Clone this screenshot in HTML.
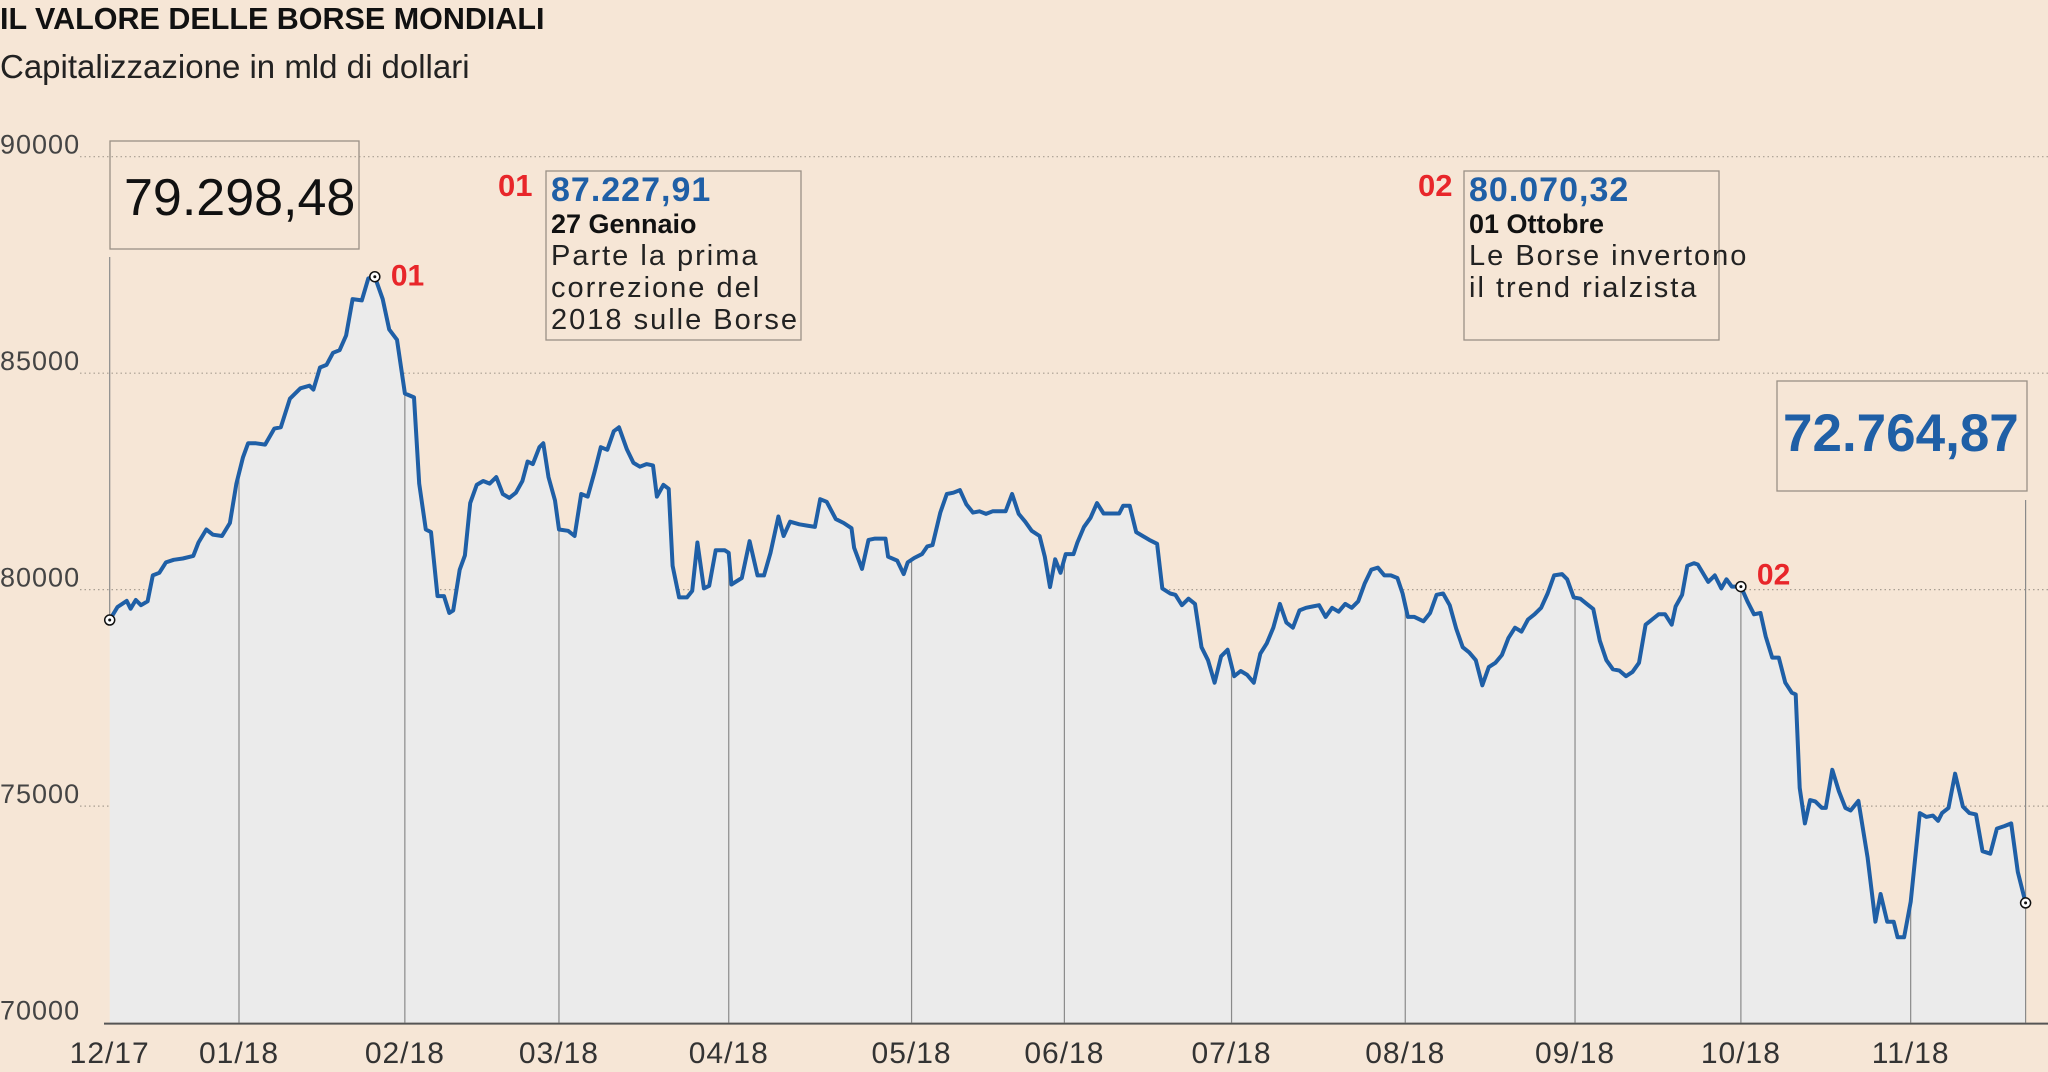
<!DOCTYPE html>
<html><head><meta charset="utf-8"><style>
html,body{margin:0;padding:0;background:#f6e6d6;}
body{width:2048px;height:1072px;overflow:hidden;position:relative;font-family:"Liberation Sans",sans-serif;}
svg{position:absolute;left:0;top:0;}
</style></head><body>
<svg id="chart" width="2048" height="1072" viewBox="0 0 2048 1072" xmlns="http://www.w3.org/2000/svg">
  <rect x="0" y="0" width="2048" height="1072" fill="#f6e6d6"/>
  <text x="0" y="29" font-size="30.5" font-weight="bold" fill="#111">IL VALORE DELLE BORSE MONDIALI</text>
  <text x="0" y="78" font-size="33" fill="#222">Capitalizzazione in mld di dollari</text>
  <g id="grid"></g>
  <g id="plot"></g>
  <g id="xaxis"></g>
  <g>
    <rect x="110" y="141" width="249" height="108" fill="none" stroke="#9a9085" stroke-width="1.3"/>
    <text x="124" y="215" font-size="52" fill="#111">79.298,48</text>
  </g>
  <g>
    <text x="498" y="196" font-size="31" font-weight="bold" fill="#e8262a">01</text>
    <rect x="546" y="171" width="255" height="169" fill="none" stroke="#9a9085" stroke-width="1.3"/>
    <text x="551" y="201" font-size="34" font-weight="bold" letter-spacing="1" fill="#1f5fa6">87.227,91</text>
    <text x="551" y="233" font-size="27" font-weight="bold" fill="#111">27 Gennaio</text>
    <text font-size="29" letter-spacing="2" fill="#222"><tspan x="551" y="265">Parte la prima</tspan><tspan x="551" y="297">correzione del</tspan><tspan x="551" y="329">2018 sulle Borse</tspan></text>
  </g>
  <g>
    <text x="1418" y="196" font-size="31" font-weight="bold" fill="#e8262a">02</text>
    <rect x="1464" y="171" width="255" height="169" fill="none" stroke="#9a9085" stroke-width="1.3"/>
    <text x="1469" y="201" font-size="34" font-weight="bold" letter-spacing="1" fill="#1f5fa6">80.070,32</text>
    <text x="1469" y="233" font-size="27" font-weight="bold" fill="#111">01 Ottobre</text>
    <text font-size="29" letter-spacing="2" fill="#222"><tspan x="1469" y="265">Le Borse invertono</tspan><tspan x="1469" y="297">il trend rialzista</tspan></text>
  </g>
  <g>
    <rect x="1777" y="381" width="250" height="110" fill="none" stroke="#9a9085" stroke-width="1.3"/>
    <text x="1783" y="451" font-size="53" font-weight="bold" fill="#1f5fa6">72.764,87</text>
  </g>
</svg>
<script>
const days = [0,6,13,16,20,24,29,33,38,43,49,56,64,68,74,79,86,92,97,102,106,112,119,126,131,138,146,153,156,161,166,171,176,181,186,193,198,203,209,214,220,226,233,237,242,246,251,256,260,263,268,272,276,281,286,291,296,301,306,311,316,320,324,329,332,336,341,344,351,356,361,366,371,376,381,386,390,396,401,406,411,416,419,424,428,431,436,442,446,450,455,459,464,471,474,476,484,490,496,501,506,512,516,521,528,534,540,544,549,556,562,568,570,576,581,586,594,596,603,608,611,616,622,626,630,636,641,646,651,656,661,666,671,676,681,686,691,696,701,706,712,716,720,724,728,732,738,741,746,751,756,761,766,773,776,781,786,791,796,802,806,812,816,821,826,831,836,841,846,851,856,861,866,871,876,881,886,891,896,901,906,911,916,921,926,931,936,941,946,951,956,961,966,971,976,981,986,990,994,999,1006,1011,1016,1021,1026,1031,1036,1041,1046,1051,1056,1061,1066,1071,1076,1081,1086,1091,1096,1101,1106,1112,1116,1121,1126,1131,1136,1141,1146,1151,1156,1161,1166,1171,1176,1181,1186,1191,1196,1199,1204,1208,1213,1216,1221,1224,1229,1234,1238,1242,1249,1254,1259,1264,1268,1273,1278,1283,1288,1291,1294,1298,1302,1306,1311,1314,1319,1324,1329,1333,1339,1346,1352,1356,1361,1366,1369,1374,1379,1386,1391,1396,1400,1403,1408,1413,1419,1424,1429,1434,1440,1445,1451,1456,1461,1467];
const values = [79298,79600,79740,79560,79760,79640,79730,80330,80390,80630,80690,80720,80780,81090,81390,81270,81240,81540,82450,83050,83380,83380,83350,83720,83750,84410,84650,84710,84620,85130,85190,85470,85530,85870,86710,86680,87190,87228,86710,86010,85770,84530,84440,82450,81390,81330,79850,79850,79460,79520,80460,80790,82000,82420,82510,82450,82600,82210,82120,82240,82510,82960,82900,83290,83380,82600,82060,81390,81360,81240,82210,82150,82690,83290,83230,83660,83750,83240,82930,82840,82900,82870,82150,82420,82330,80550,79820,79820,79970,81090,80030,80090,80910,80910,80850,80120,80270,81120,80330,80330,80850,81690,81240,81570,81510,81480,81450,82090,82030,81630,81540,81420,80970,80480,81150,81180,81180,80760,80670,80360,80630,80730,80820,81000,81030,81780,82210,82240,82300,81970,81780,81810,81750,81810,81810,81810,82210,81750,81570,81360,81240,80760,80060,80700,80390,80820,80820,81090,81450,81660,82000,81760,81760,81760,81940,81940,81330,81240,81150,81060,80030,79910,79880,79640,79790,79670,78670,78370,77850,78460,78610,78000,78120,78030,77850,78520,78760,79120,79670,79240,79120,79520,79580,79610,79640,79370,79580,79490,79670,79580,79730,80150,80460,80510,80330,80330,80270,79910,79370,79370,79270,79460,79880,79910,79640,79100,78670,78550,78370,77790,78210,78310,78490,78880,79120,79030,79310,79430,79580,79910,80330,80360,80240,79820,79790,79670,79550,78820,78370,78160,78130,78000,78100,78310,79190,79310,79430,79430,79190,79610,79880,80550,80610,80580,80330,80180,80330,80030,80240,80070,80070,79730,79430,79460,78920,78430,78430,77850,77620,77580,75420,74600,75140,75110,74960,74960,75840,75350,74960,74900,75120,73810,72330,72970,72330,72330,71970,71970,72790,74840,74750,74780,74660,74840,74960,75750,74990,74840,74810,73960,73900,74480,74540,74600,73480,72765];
const tickLabels = ["12/17","01/18","02/18","03/18","04/18","05/18","06/18","07/18","08/18","09/18","10/18","11/18"];
const tickDays = [0,99,226,344,474,614,731,859,992,1122,1249,1379];
const yTicks = [90000,85000,80000,75000,70000];
const markerDays = [0,203,1249,1467];
const markerValues = [79298,87228,80070,72765];

const NS = "http://www.w3.org/2000/svg";
const X0=109.7, X1=2025.6, DMAX=1467;
const Y_TOP=156.7, Y_BOT=1022.6, VMAX=90000, VMIN=70000;
const xs = d => X0 + (d/DMAX)*(X1-X0);
const ys = v => Y_BOT - (v-VMIN)/(VMAX-VMIN)*(Y_BOT-Y_TOP);
function mk(tag, attrs, parent){const e=document.createElementNS(NS,tag);for(const k in attrs)e.setAttribute(k,attrs[k]);parent.appendChild(e);return e;}

const grid=document.getElementById('grid');
yTicks.forEach(v=>{
  const y=ys(v);
  if(v>VMIN){
    const l=mk('line',{x1:80,x2:2048,y1:y,y2:y,stroke:'#a89e92','stroke-width':1.2,'stroke-dasharray':'1.5 3'},grid);
    
    
  }
  const t=mk('text',{x:0,y:y-3,'font-size':27,'letter-spacing':1,fill:'#444'},grid);
  t.textContent=String(v);
  
  
});

const plot=document.getElementById('plot');
let lineD='';
days.forEach((d,i)=>{lineD+=(i?'L':'M')+xs(d).toFixed(1)+' '+ys(values[i]).toFixed(1);});
const areaD=lineD+'L'+xs(days[days.length-1]).toFixed(1)+' '+Y_BOT+'L'+xs(days[0]).toFixed(1)+' '+Y_BOT+'Z';
const defs=mk('defs',{},plot);
const cp=mk('clipPath',{id:'areaClip'},defs);
mk('path',{d:areaD},cp);
const area=mk('path',{d:areaD,fill:'#ebebeb'},plot);


const vg=mk('g',{'clip-path':'url(#areaClip)'},plot);
tickDays.forEach((d,i)=>{
  if(i===0)return;
  const l=mk('line',{x1:xs(d),x2:xs(d),y1:0,y2:Y_BOT,stroke:'#8a8a8a','stroke-width':1.2},vg);
  
  
});
const c1=mk('line',{x1:xs(0),x2:xs(0),y1:257,y2:ys(values[0]),stroke:'#8a8a8a','stroke-width':1.2},plot);


const c2=mk('line',{x1:xs(DMAX),x2:xs(DMAX),y1:500,y2:Y_BOT,stroke:'#8a8a8a','stroke-width':1.2},plot);


const line=mk('path',{d:lineD,fill:'none',stroke:'#1f5fa6','stroke-width':4,'stroke-linejoin':'round'},plot);


markerDays.forEach((d,i)=>{
  const g=mk('g',{},plot);
  
  
  mk('circle',{cx:xs(d),cy:ys(markerValues[i]),r:5,fill:'#fff',stroke:'#111','stroke-width':1.5},g);
  mk('circle',{cx:xs(d),cy:ys(markerValues[i]),r:1.5,fill:'#111'},g);
});
const l01=mk('text',{x:xs(203)+16,y:ys(87228)+9,'font-size':30,'font-weight':'bold',fill:'#e8262a'},plot);
l01.textContent='01';


const l02=mk('text',{x:xs(1249)+16,y:ys(80070)-2,'font-size':30,'font-weight':'bold',fill:'#e8262a'},plot);
l02.textContent='02';



const xa=document.getElementById('xaxis');
const ax=mk('line',{x1:104,x2:2048,y1:Y_BOT+1,y2:Y_BOT+1,stroke:'#555','stroke-width':2},xa);


tickLabels.forEach((lab,i)=>{
  const t=mk('text',{x:xs(tickDays[i]),y:1063,'font-size':30,'letter-spacing':1,fill:'#333','text-anchor':'middle'},xa);
  t.textContent=lab;
  
  
});
</script>
</body></html>
